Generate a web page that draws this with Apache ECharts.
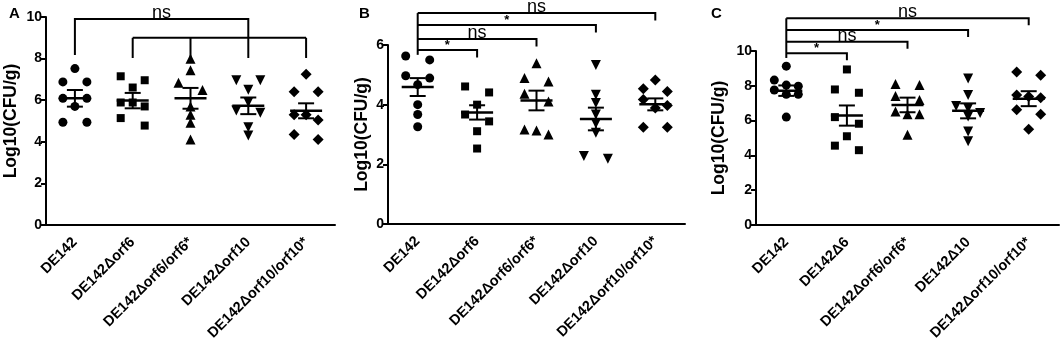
<!DOCTYPE html>
<html><head><meta charset="utf-8">
<script src="https://cdn.jsdelivr.net/npm/echarts@6/dist/echarts.min.js"></script>
<style>html,body{margin:0;padding:0;background:#fff}#c{width:1062px;height:353px}</style>
</head><body><div id="c"></div>
<script>
// ---------- data ----------
const catsAB = ['DE142','DE142Δorf6','DE142Δorf6/orf6*','DE142Δorf10','DE142Δorf10/orf10*'];
const catsC  = ['DE142','DE142Δ6','DE142Δorf6/orf6*','DE142Δ10','DE142Δorf10/orf10*'];
const yTitle = 'Log10(CFU/g)';

// Panel A
const a_DE142  = [7.52, 6.88, 6.88, 6.09, 6.09, 5.70, 4.94, 4.94];
const a_orf6   = [7.15, 6.96, 6.61, 5.89, 5.70, 5.89, 5.14, 4.78];
const a_orf6c  = [7.99, 7.44, 6.84, 6.49, 5.70, 5.30, 4.91, 4.11];
const a_orf10  = [6.96, 6.96, 6.50, 5.90, 5.50, 5.40, 4.70, 4.30];
const a_orf10c = [7.25, 6.41, 6.41, 5.30, 5.30, 5.05, 4.35, 4.11];
const meanA = [6.09, 5.98, 6.09, 5.73, 5.49];
const semA  = [0.40, 0.37, 0.50, 0.40, 0.36];

// Panel B
const b_DE142  = [5.63, 5.50, 4.97, 4.89, 4.67, 4.00, 3.67, 3.26];
const b_orf6   = [4.61, 4.41, 4.00, 3.67, 3.44, 3.11, 2.53];
const b_orf6c  = [5.39, 4.89, 4.78, 4.37, 4.11, 3.17, 3.13, 3.00];
const b_orf10  = [5.33, 4.33, 4.06, 3.67, 3.37, 3.06, 2.28, 2.19];
const b_orf10c = [4.83, 4.53, 4.44, 4.17, 3.97, 3.89, 3.24, 3.24];
const meanB = [4.59, 3.74, 4.14, 3.52, 4.01];
const semB  = [0.30, 0.24, 0.33, 0.38, 0.20];

// Panel C
const c_DE142  = [9.13, 8.33, 8.04, 7.98, 7.76, 7.51, 7.51, 6.20];
const c_d6     = [8.94, 7.79, 7.60, 6.20, 5.82, 5.10, 4.56, 4.30];
const c_orf6c  = [8.10, 8.04, 7.41, 7.19, 6.52, 6.37, 6.37, 5.19];
const c_d10    = [8.42, 7.47, 6.84, 6.71, 6.43, 6.24, 5.38, 4.81];
const c_orf10c = [8.80, 8.61, 7.47, 7.38, 7.32, 6.62, 6.37, 5.51];
const meanC = [7.72, 6.29, 6.90, 6.56, 7.26];
const semC  = [0.30, 0.58, 0.42, 0.43, 0.43];

// Significance brackets
const brA_upper = [0, 2.6, 9.9, 8.17];        // from cat, to cat, level, left-drop end
const brA_lowerCats = [1, 2, 3, 4];
const brA_lower = [9.0, 8.03];                 // level, drop end
const brA_label = 'ns';

const brB_right = [4, 3, 2, 1];
const brB_level = [7.07, 6.67, 6.20, 5.83];
const brB_label = ['ns', '*', 'ns', '*'];
const brB_stem = 5.67, brB_drop = 0.25;

const brC_right = [4, 3, 2, 1];
const brC_level = [11.88, 11.20, 10.53, 9.87];
const brC_label = ['ns', '*', 'ns', '*'];
const brC_stem = 9.6, brC_drop = 0.4;

// ---------- layout ----------
const FONT = '"Liberation Sans", Arial, sans-serif';
const grids = [
  {left: 46, top: 17, width: 289, height: 208},
  {left: 388, top: 45, width: 297, height: 179},
  {left: 756, top: 51, width: 303, height: 174}
];
const yMax = [10, 6, 10];
const SYMS = [
  {symbol: 'circle', size: 9, rot: 0},
  {symbol: 'rect', size: 8, rot: 0},
  {symbol: 'triangle', size: 10, rot: 0},
  {symbol: 'triangle', size: 10, rot: 180},
  {symbol: 'diamond', size: 11, rot: 0}
];
const SLOT = 12, ROWTH = 8;

function swarm(values, pxPerUnit) {
  const idx = values.map((v, i) => i).sort((a, b) => values[b] - values[a]);
  const offs = new Array(values.length).fill(0);
  let row = [], start = null;
  const flush = () => {
    const n = row.length;
    row.forEach((id, k) => {
      let s;
      if (n % 2) s = k - (n - 1) / 2;
      else { const h = n / 2; s = k < h ? k - h : k - h + 1; }
      offs[id] = s * SLOT;
    });
    row = [];
  };
  idx.forEach(i => {
    if (start !== null && (values[start] - values[i]) * pxPerUnit >= ROWTH) { flush(); start = null; }
    if (start === null) start = i;
    row.push(i);
  });
  flush();
  return offs;
}

const panels = [
  {groups: [a_DE142, a_orf6, a_orf6c, a_orf10, a_orf10c], mean: meanA, sem: semA, cats: catsAB},
  {groups: [b_DE142, b_orf6, b_orf6c, b_orf10, b_orf10c], mean: meanB, sem: semB, cats: catsAB},
  {groups: [c_DE142, c_d6, c_orf6c, c_d10, c_orf10c], mean: meanC, sem: semC, cats: catsC}
];

const series = [];
const xAxes = [], yAxes = [];
const nameGaps = [26, 17, 28];

panels.forEach((p, pi) => {
  const ppu = grids[pi].height / yMax[pi];
  xAxes.push({
    type: 'category', gridIndex: pi, data: p.cats, boundaryGap: true,
    axisLine: {lineStyle: {color: '#000', width: 2}},
    axisTick: {alignWithLabel: true, length: 6, lineStyle: {color: '#000', width: 2}},
    axisLabel: {rotate: 45, interval: 0, color: '#000', fontWeight: 'bold', fontSize: 14.5, fontFamily: FONT, margin: 15},
    splitLine: {show: false}
  });
  yAxes.push({
    type: 'value', gridIndex: pi, min: 0, max: yMax[pi], interval: 2,
    axisLine: {show: true, lineStyle: {color: '#000', width: 2}},
    axisTick: {show: true, length: 5, lineStyle: {color: '#000', width: 2}},
    axisLabel: {color: '#000', fontWeight: 'bold', fontSize: 14, fontFamily: FONT, margin: 4},
    splitLine: {show: false},
    name: yTitle, nameLocation: 'middle', nameGap: nameGaps[pi],
    nameTextStyle: {color: '#000', fontWeight: 'bold', fontSize: 17.5, fontFamily: FONT}
  });
  p.groups.forEach((vals, g) => {
    const offs = swarm(vals, ppu);
    series.push({
      type: 'scatter', xAxisIndex: pi, yAxisIndex: pi,
      symbol: SYMS[g].symbol, symbolSize: SYMS[g].size, symbolRotate: SYMS[g].rot,
      itemStyle: {color: '#000', opacity: 1},
      data: vals.map((v, i) => ({value: [g, v], symbolOffset: [offs[i], 0]})),
      z: 3, silent: true
    });
  });
  series.push({
    type: 'custom', xAxisIndex: pi, yAxisIndex: pi, clip: false, z: 5, silent: true,
    encode: {x: 0, y: 1},
    data: p.mean.map((m, i) => [i, m, p.sem[i]]),
    renderItem: (params, api) => {
      const g = api.value(0), m = api.value(1), s = api.value(2);
      const c = api.coord([g, m]), t = api.coord([g, m + s]), b = api.coord([g, m - s]);
      const st = {stroke: '#000', lineWidth: 2};
      return {type: 'group', children: [
        {type: 'line', shape: {x1: c[0] - 16, y1: c[1], x2: c[0] + 16, y2: c[1]}, style: {stroke: '#000', lineWidth: 2.5}},
        {type: 'line', shape: {x1: c[0], y1: t[1], x2: c[0], y2: b[1]}, style: st},
        {type: 'line', shape: {x1: c[0] - 8, y1: t[1], x2: c[0] + 8, y2: t[1]}, style: st},
        {type: 'line', shape: {x1: c[0] - 8, y1: b[1], x2: c[0] + 8, y2: b[1]}, style: st}
      ]};
    }
  });
});

function txt(x, y, label) {
  const big = label === 'ns';
  return {type: 'text', x: x, y: big ? y + 3 : y - 5,
    style: {text: label, fill: '#000', fontSize: big ? 18 : 13, fontWeight: big ? 'normal' : 'bold',
      fontFamily: FONT, align: 'center', verticalAlign: big ? 'bottom' : 'middle'}};
}
const BST = {stroke: '#000', lineWidth: 2, fill: null};

// Panel A brackets
series.push({
  type: 'custom', xAxisIndex: 0, yAxisIndex: 0, clip: false, z: 6, silent: true,
  encode: {x: 0, y: 1},
  data: [[brA_upper[0], brA_upper[2]]],
  renderItem: (params, api) => {
    const L = api.coord([brA_upper[0], brA_upper[2]]);
    const R = api.coord([brA_upper[1], brA_upper[2]]);
    const Ld = api.coord([brA_upper[0], brA_upper[3]]);
    const Rd = api.coord([brA_upper[1], brA_lower[0]]);
    const kids = [
      {type: 'polyline', shape: {points: [Ld, L, R, Rd]}, style: BST}
    ];
    const l0 = api.coord([brA_lowerCats[0], brA_lower[0]]);
    const l1 = api.coord([brA_lowerCats[brA_lowerCats.length - 1], brA_lower[0]]);
    kids.push({type: 'line', shape: {x1: l0[0], y1: l0[1], x2: l1[0], y2: l1[1]}, style: BST});
    brA_lowerCats.forEach(c => {
      const a = api.coord([c, brA_lower[0]]), b = api.coord([c, brA_lower[1]]);
      kids.push({type: 'line', shape: {x1: a[0], y1: a[1], x2: b[0], y2: b[1]}, style: BST});
    });
    kids.push(txt((L[0] + R[0]) / 2, L[1], brA_label));
    return {type: 'group', children: kids};
  }
});

function stackBrackets(pi, rights, levels, labels, stem, drop) {
  series.push({
    type: 'custom', xAxisIndex: pi, yAxisIndex: pi, clip: false, z: 6, silent: true,
    encode: {x: 0, y: 1},
    data: rights.map((r, i) => [r, levels[i]]),
    renderItem: (params, api) => {
      const i = params.dataIndex;
      const r = api.value(0), lv = api.value(1);
      const L = api.coord([0, lv]), R = api.coord([r, lv]), Rd = api.coord([r, lv - drop]);
      const kids = [{type: 'polyline', shape: {points: [L, R, Rd]}, style: BST}];
      if (i === 0) {
        const sb = api.coord([0, stem]);
        kids.push({type: 'line', shape: {x1: L[0], y1: L[1], x2: sb[0], y2: sb[1]}, style: BST});
      }
      kids.push(txt((L[0] + R[0]) / 2, L[1], labels[i]));
      return {type: 'group', children: kids};
    }
  });
}
stackBrackets(1, brB_right, brB_level, brB_label, brB_stem, brB_drop);
stackBrackets(2, brC_right, brC_level, brC_label, brC_stem, brC_drop);

const option = {
  backgroundColor: '#fff',
  animation: false,
  title: [
    {text: 'A', left: 4, top: 1, textStyle: {fontSize: 15, fontWeight: 'bold', color: '#000', fontFamily: FONT}},
    {text: 'B', left: 354, top: 1, textStyle: {fontSize: 15, fontWeight: 'bold', color: '#000', fontFamily: FONT}},
    {text: 'C', left: 706, top: 1, textStyle: {fontSize: 15, fontWeight: 'bold', color: '#000', fontFamily: FONT}}
  ],
  grid: grids,
  xAxis: xAxes,
  yAxis: yAxes,
  series: series
};
const chart = echarts.init(document.getElementById('c'), null, {renderer: 'canvas'});
chart.setOption(option);
</script></body></html>
